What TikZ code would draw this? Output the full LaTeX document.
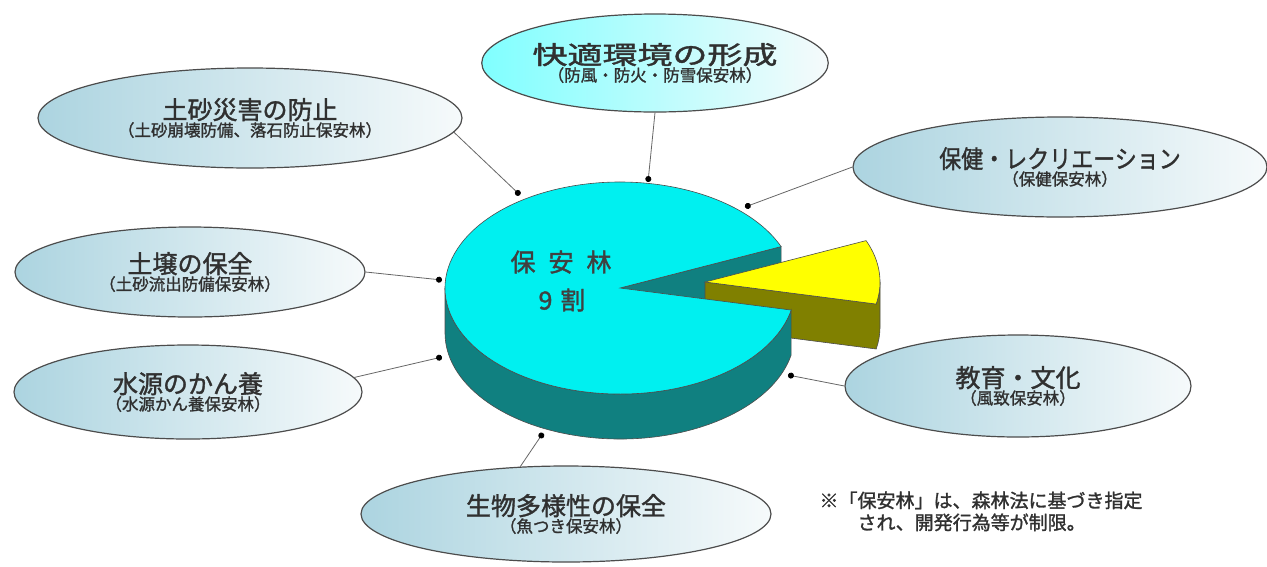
\documentclass[tikz,border=0pt]{standalone}
\usepackage{fontspec}
\setmainfont{Noto Sans CJK JP}[FakeBold=1.4]
\usepackage{xcolor}
\usepackage{graphicx}
\usepackage{tikz}
\usetikzlibrary{calc}
\usetikzlibrary{shapes.geometric}
\usetikzlibrary{arrows, arrows.meta}

\definecolor{pietop}{RGB}{0,240,240}
\definecolor{pieside}{RGB}{16,128,128}
\definecolor{slicetop}{RGB}{255,255,0}
\definecolor{sliceside}{RGB}{128,128,0}
\definecolor{ovalleft}{RGB}{172,212,224}
\definecolor{ovalright}{RGB}{246,250,251}
\definecolor{textgray}{RGB}{48,48,48}

\tikzset{
	oval/.style={ellipse, draw=black!70, line width=1.2pt, inner sep=0pt,
		align=center, text=textgray, left color=ovalleft, right color=ovalright},
	link/.style={draw=black!60, line width=0.8pt, -{Circle[length=6pt, color=black]}},
	pieline/.style={draw=black!70, line width=0.6pt},
}
\newcommand{\maintxt}{\fontsize{25}{28}\selectfont}
\newcommand{\subtxt}{\fontsize{16.5}{19}\selectfont}

\begin{document}
\begin{tikzpicture}[x=1pt, y=1pt]
	\useasboundingbox (0,0) rectangle (1267,-566);

	% pie
	\draw [pieline, fill=pieside]
		(620,-288) -- (781.1,-246.6) -- ++(0,-45) -- (620,-333) -- cycle;
	\draw [pieline, fill=sliceside]
		(705,-282) -- (876.2,-304) arc[start angle=-12, end angle=0, x radius=175, y radius=106]
		-- ++(0,-45) arc[start angle=0, end angle=-12, x radius=175, y radius=106]
		-- (705,-327) -- cycle;
	\draw [pieline, fill=slicetop]
		(705,-282) -- (866.1,-240.6)
		arc[start angle=23, end angle=-12, x radius=175, y radius=106] -- cycle;
	\draw [pieline, fill=pieside]
		(445,-288) arc[start angle=180, end angle=348, x radius=175, y radius=106]
		-- ++(0,-45) arc[start angle=348, end angle=180, x radius=175, y radius=106] -- cycle;
	\draw [pieline, fill=pietop]
		(620,-288) -- (781.1,-246.6)
		arc[start angle=23, end angle=348, x radius=175, y radius=106] -- cycle;
	\node [text=black!75, font=\maintxt] (forest) at (561,-262) {保\hspace{13pt}安\hspace{13pt}林};
	\node [text=black!75, font=\maintxt] (ratio) at (562,-300) {9\hspace{8pt}割};

	\coordinate (p1) at (520,-195);
	\coordinate (p2) at (648,-182);
	\coordinate (p3) at (745,-207);
	\coordinate (p4) at (442,-280);
	\coordinate (p5) at (442,-357);
	\coordinate (p6) at (788,-375);
	\coordinate (p7) at (543,-433);

	% ovals
	\node [oval, minimum width=424pt, minimum height=100pt] (sediment) at (250,-118)
		{{\maintxt 土砂災害の防止}\\{\subtxt （土砂崩壊防備、落石防止保安林）}};
	\node [oval, minimum width=330pt, minimum height=98pt, left color=cyan!50] (comfort) at (655,-63)
		{{\maintxt \scalebox{1.4}[1]{快適環境の形成}}\\{\subtxt （防風・防火・防雪保安林）}};
	\node [oval, minimum width=414pt, minimum height=100pt] (health) at (1060,-167)
		{{\maintxt \scalebox{0.88}[1]{保健・レクリエーション}}\\{\subtxt （保健保安林）}};
	\node [oval, minimum width=350pt, minimum height=90pt] (soil) at (190,-272)
		{{\maintxt 土壌の保全}\\{\subtxt （土砂流出防備保安林）}};
	\node [oval, minimum width=348pt, minimum height=94pt] (water) at (188,-392)
		{{\maintxt 水源のかん養}\\{\subtxt （水源かん養保安林）}};
	\node [oval, minimum width=346pt, minimum height=102pt] (culture) at (1018,-386)
		{{\maintxt 教育・文化}\\{\subtxt （風致保安林）}};
	\node [oval, minimum width=410pt, minimum height=96pt] (biodiv) at (566,-514)
		{{\maintxt 生物多様性の保全}\\{\subtxt （魚つき保安林）}};

	\draw [link] (sediment.-4) -- (p1);
	\draw [link] (comfort.south) -- (p2);
	\draw [link] (health.west) -- (p3);
	\draw [link] (soil.east) -- (p4);
	\draw [link] (water.5) -- (p5);
	\draw [link] (culture.west) -- (p6);
	\draw [link] (biodiv.134) -- (p7);

	\node [anchor=north west, align=left, text=textgray, font=\fontsize{19}{22}\selectfont] (note) at (816,-488)
		{※「保安林」は、森林法に基づき指定\\\hspace{2em}され、開発行為等が制限。};
\end{tikzpicture}
\end{document}
